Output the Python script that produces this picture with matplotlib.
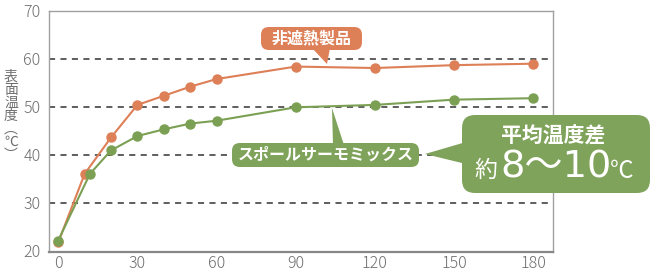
import matplotlib
matplotlib.use("Agg")
import matplotlib.pyplot as plt
from matplotlib.patches import FancyBboxPatch, Polygon

plt.rcParams["font.family"] = ["Noto Sans CJK JP", "DejaVu Sans"]

# ---- DATA ----
days_normal = [0, 10, 20, 30, 40, 50, 60, 90, 120, 150, 180]
temp_normal = [21.7, 36.0, 43.6, 50.4, 52.3, 54.2, 55.8, 58.4, 58.1, 58.7, 59.0]
days_coated = [0, 12, 20, 30, 40, 50, 60, 90, 120, 150, 180]
temp_coated = [22.1, 36.0, 40.9, 43.9, 45.3, 46.5, 47.1, 49.9, 50.4, 51.5, 51.8]

x_ticks = [0, 30, 60, 90, 120, 150, 180]
y_ticks = [20, 30, 40, 50, 60, 70]
label_normal = "非遮熱製品"
label_coated = "スポールサーモミックス"
ylabel_chars = ["表", "面", "温", "度", "︵", "℃", "︶"]

ORANGE = "#dd7f57"
GREEN = "#7ba053"
BOX_GREEN = "#7fa35a"
GRAY = "#6e6e6e"

W, H = 650, 271
fig = plt.figure(figsize=(W / 100, H / 100), dpi=100)
ax = fig.add_axes([49 / W, 1 - 252 / H, (553 - 49) / W, (252 - 11) / H])

# ---- LINES ----
ax.plot(days_normal, temp_normal, color=ORANGE, lw=1.5, marker="o", ms=6.5, zorder=3)
ax.plot(days_coated, temp_coated, color=GREEN, lw=1.5, marker="o", ms=6.5, zorder=4)

ax.set_xlim(-3.5, 187.5)
ax.set_ylim(19.7, 70)
ax.set_xticks(x_ticks)
ax.set_yticks(y_ticks)
for y in y_ticks[1:-1]:
    ax.axhline(y, color="#333333", lw=1.1, ls=(0, (4, 3.5)), zorder=1)

for s in ax.spines.values():
    s.set_color("#a0a0a0")
    s.set_linewidth(1.0)
ax.spines["bottom"].set_color("#888888")
ax.spines["bottom"].set_linewidth(1.6)
ax.tick_params(length=0, labelsize=11.5, labelcolor=GRAY, pad=2)
ax.tick_params(axis="y", pad=6)
for lab in ax.get_xticklabels() + ax.get_yticklabels():
    lab.set_fontweight("light")

fig.text(11 / W, 1 - 116 / H, "\n".join(ylabel_chars), ha="center", va="center",
         fontsize=10, color=GRAY, linespacing=0.92)


# ---- CALLOUTS (pixel positions) ----
def px(x, y):
    return x / W, 1 - y / H


def callout(x0, y0, x1, y1, tri, color, rad):
    bx, by = px(x0, y1)
    bw, bh = (x1 - x0) / W, (y1 - y0) / H
    box = FancyBboxPatch((bx, by), bw, bh, boxstyle="round,pad=0,rounding_size=%f" % rad,
                         transform=fig.transFigure, fc=color, ec="none",
                         mutation_aspect=W / H, zorder=5)
    fig.add_artist(box)
    fig.add_artist(Polygon([px(*p) for p in tri], closed=True, transform=fig.transFigure,
                           fc=color, ec="none", zorder=5))


callout(261, 27, 362, 50, [(312, 48), (330, 48), (327, 64)], ORANGE, 0.012)
fig.text(*px(311.5, 38.5), label_normal, ha="center", va="center", color="white",
         fontsize=11.5, weight="bold", zorder=6)

callout(232, 143, 419, 167, [(333, 145), (344, 145), (332, 108)], BOX_GREEN, 0.012)
fig.text(*px(325.5, 155), label_coated, ha="center", va="center", color="white",
         fontsize=11.5, weight="bold", zorder=6)

callout(462, 115, 650, 193, [(466, 142), (466, 164), (425, 154)], BOX_GREEN, 0.02)
fig.text(*px(553, 136), "平均温度差", ha="center", va="center", color="white",
         fontsize=15, weight="bold", zorder=6)
fig.text(*px(486, 170), "約", ha="center", va="center", color="white",
         fontsize=16.5, zorder=6)
fig.text(*px(556, 167), "8〜10", ha="center", va="center", color="white",
         fontsize=27.5, family=["DejaVu Sans", "Noto Sans CJK JP"], zorder=6)
fig.text(*px(622, 171), "℃", ha="center", va="center", color="white",
         fontsize=17, zorder=6)

fig.savefig("out.png", dpi=100)
